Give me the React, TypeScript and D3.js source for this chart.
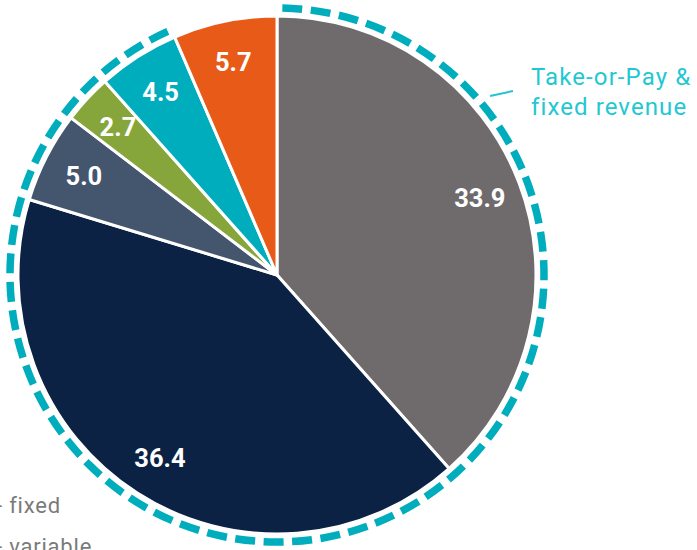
import React from "react";
import * as d3 from "d3";

const categories = ["Take-or-Pay", "Fixed other", "Slate", "Green", "Teal", "Variable"];
const values = [33.9, 36.4, 5.0, 2.7, 4.5, 5.7];
const labels = ["33.9", "36.4", "5.0", "2.7", "4.5", "5.7"];
const colors = ["#6f6b6c", "#0b2244", "#44556e", "#86a63b", "#00adbd", "#e85a17"];
const inFixedGroup = [true, true, true, true, true, false];

const W = 697;
const H = 550;
const cx = 277;
const cy = 275;
const R = 259;
const ringR = 267;
const labelR = 217;

export default function App() {
  const pie = d3.pie<number>().value((d) => d).sort(null);
  const arcs = pie(values);
  const arc = d3.arc<d3.PieArcDatum<number>>().innerRadius(0).outerRadius(R);
  const labelArc = d3.arc<d3.PieArcDatum<number>>().innerRadius(labelR).outerRadius(labelR);

  const groupArcs = arcs.filter((_, i) => inFixedGroup[i]);
  const startA = d3.min(groupArcs, (a) => a.startAngle) as number;
  const endA = d3.max(groupArcs, (a) => a.endAngle) as number;
  const ringLine = d3.path();
  ringLine.arc(0, 0, ringR, startA + 0.02 - Math.PI / 2, endA - 0.01 - Math.PI / 2, false);

  return (
    <svg width={W} height={H} style={{ position: "absolute", left: 0, top: 0 }} fontFamily="Roboto, sans-serif">
      <rect width={W} height={H} fill="#ffffff" />
      <g transform={`translate(${cx},${cy})`}>
        {arcs.map((a, i) => (
          <path key={categories[i]} d={arc(a) as string} fill={colors[i]} stroke="#ffffff" strokeWidth={3} strokeLinejoin="round" />
        ))}
        <path d={ringLine.toString()} fill="none" stroke="#00adbd" strokeWidth={7.5} strokeDasharray="20 8.5" />
        {arcs.map((a, i) => {
          const [x, y] = labelArc.centroid(a);
          return (
            <text
              key={"l" + i}
              x={x}
              y={y}
              textAnchor="middle"
              dominantBaseline="central"
              fill="#ffffff"
              fontWeight="bold"
              fontSize={25.5}
            >
              {labels[i]}
            </text>
          );
        })}
      </g>
      <line x1={490} y1={96} x2={513} y2={91} stroke="#1fc6cf" strokeWidth={2} />
      <text x={531} y={84.5} fill="#1fc8d2" fontSize={24} letterSpacing={1.1}>
        Take-or-Pay &amp;
      </text>
      <text x={531} y={115} fill="#1fc8d2" fontSize={24} letterSpacing={1.1}>
        fixed revenue
      </text>
      <text x={-4} y={513} fill="#7a7a7a" fontSize={22} letterSpacing={0.8}>
        - fixed
      </text>
      <text x={-4} y={554} fill="#7a7a7a" fontSize={22} letterSpacing={0.8}>
        - variable
      </text>
    </svg>
  );
}
